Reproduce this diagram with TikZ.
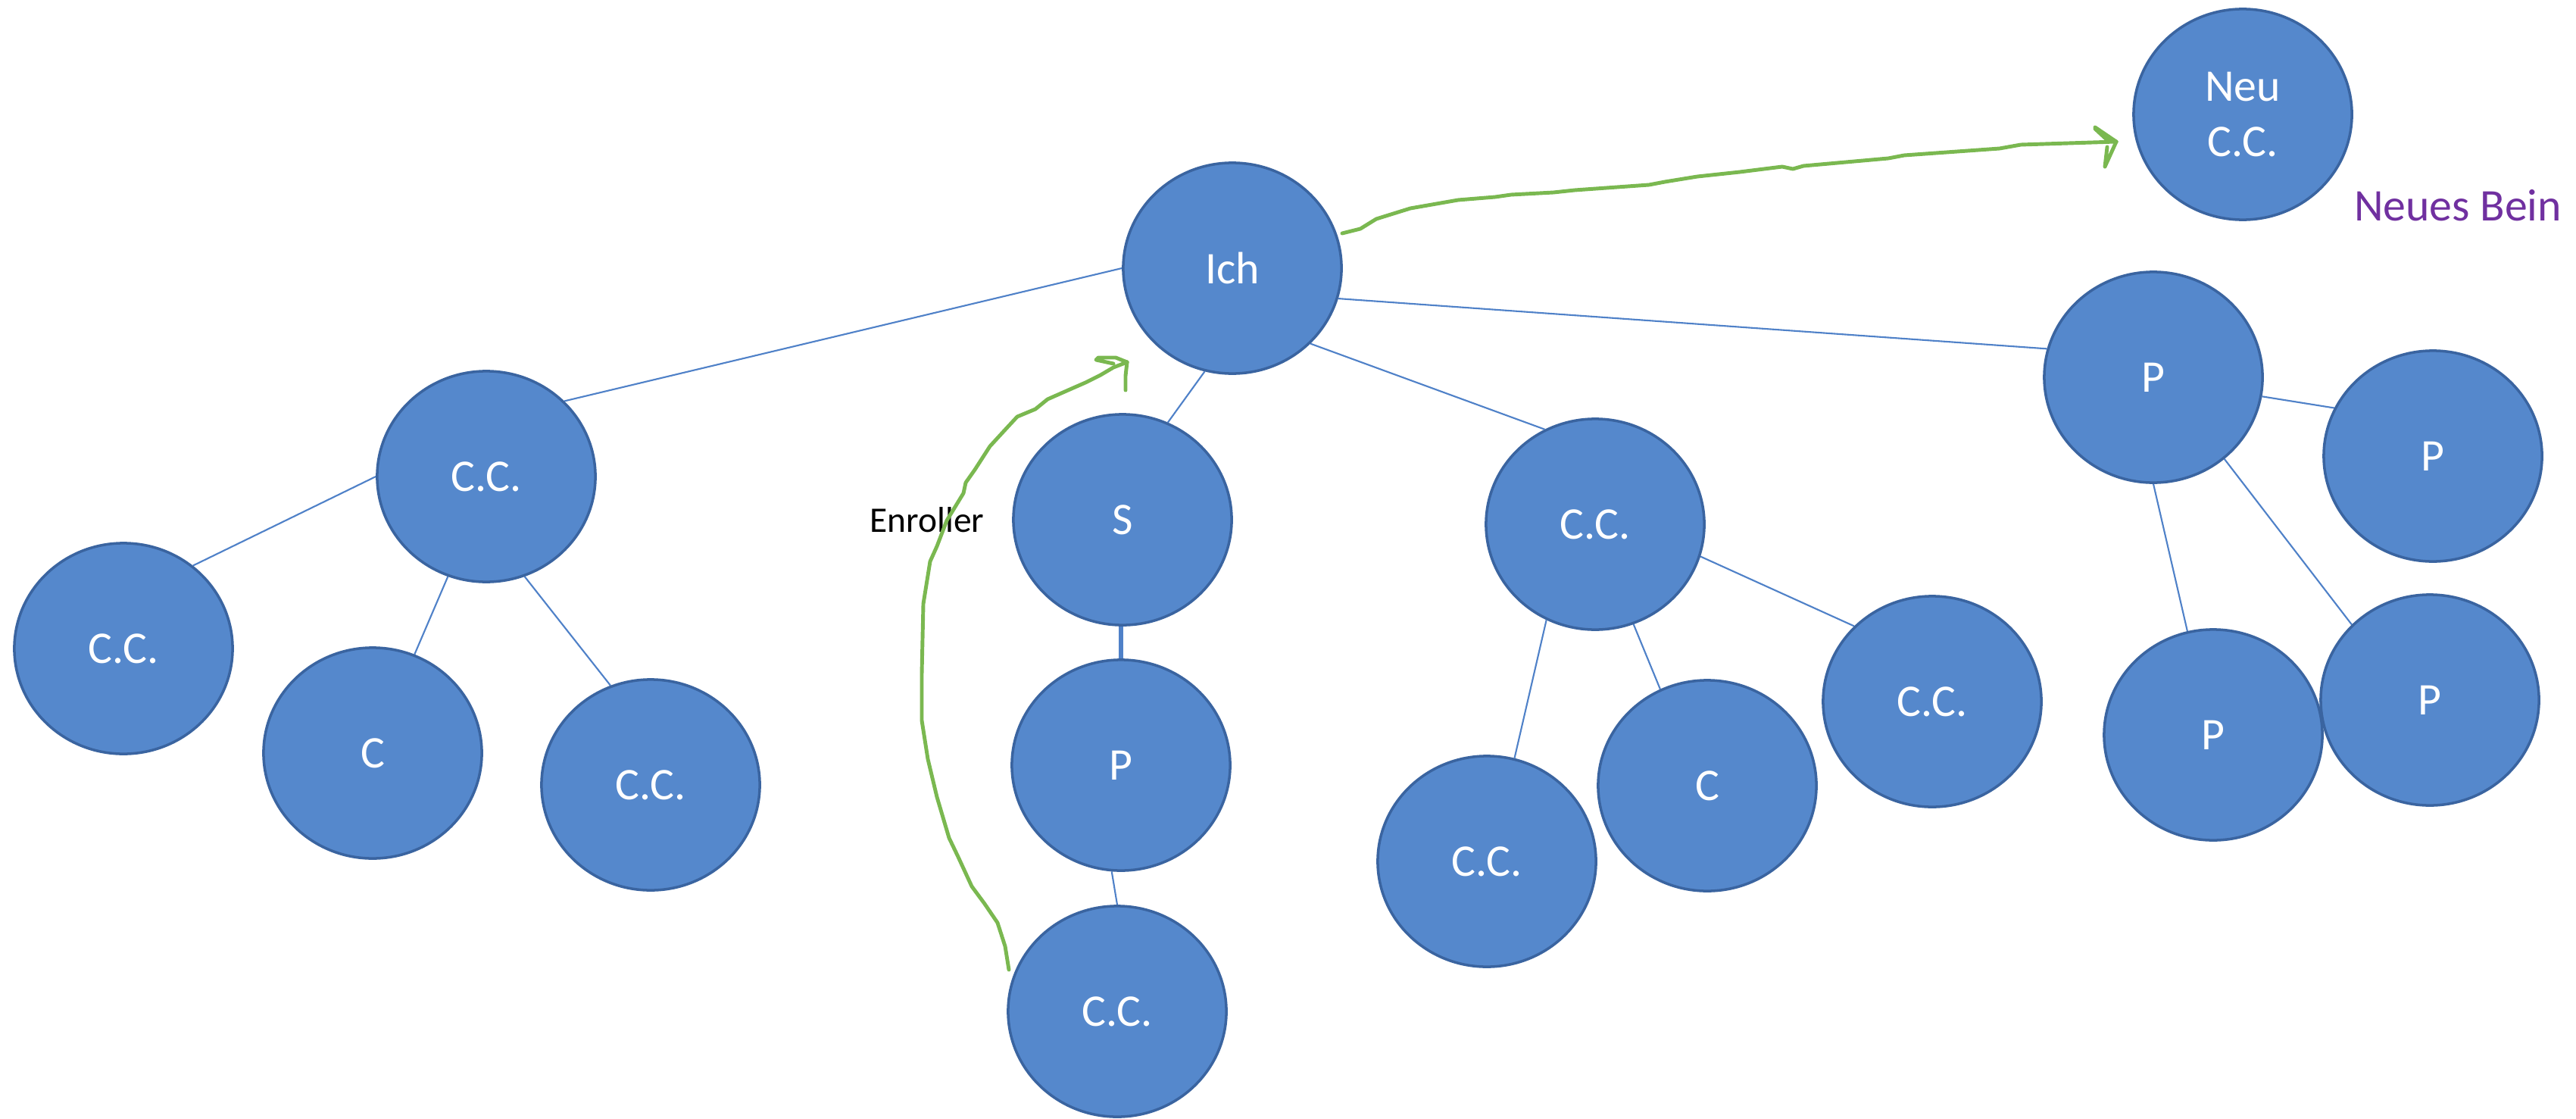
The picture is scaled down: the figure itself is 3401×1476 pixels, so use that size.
\documentclass[tikz,border=0pt]{standalone}
\usepackage{fontspec}
\setmainfont{Carlito}
\usetikzlibrary{shapes.geometric,backgrounds}
\definecolor{nfill}{RGB}{85,136,204}
\definecolor{nedge}{RGB}{58,100,160}
\definecolor{lblue}{RGB}{79,129,200}
\definecolor{hgreen}{RGB}{122,184,80}
\definecolor{npurple}{RGB}{112,48,160}
\begin{document}
\begin{tikzpicture}[x=0.01cm,y=-0.01cm,
  bub/.style={ellipse,draw=nedge,line width=1pt,fill=nfill,minimum width=2.88cm,minimum height=2.78cm,inner sep=0pt,text=white,font=\fontsize{17}{21}\selectfont,align=center},
  link/.style={draw=lblue,line width=0.6pt},
  boldlink/.style={draw=lblue,line width=1.7pt},
  hand/.style={draw=hgreen,line width=1.4pt,line cap=round,line join=round},
  lbl/.style={inner sep=0pt}]
\useasboundingbox (0,0) rectangle (3401,1476);

% nodes
\node[bub] (ich) at (1627,354) {Ich};
\node[bub] (neu) at (2961,151) {Neu\\C.C.};
\node[bub] (p1) at (2843,498) {P};
\node[bub] (p2) at (3212,602) {P};
\node[bub] (p3) at (2922,970) {P};
\node[bub] (p4) at (3208,924) {P};
\node[bub] (ccl) at (642,629) {C.C.};
\node[bub] (ccfl) at (163,856) {C.C.};
\node[bub] (cl) at (492,994) {C};
\node[bub] (ccl2) at (859,1036) {C.C.};
\node[bub] (s) at (1482,686) {S};
\node[bub] (pm) at (1480,1010) {P};
\node[bub] (ccb) at (1475,1335) {C.C.};
\node[bub] (ccm) at (2106,692) {C.C.};
\node[bub] (ccm1) at (1963,1137) {C.C.};
\node[bub] (cm) at (2254,1037) {C};
\node[bub] (ccm2) at (2551,926) {C.C.};

% labels
\node[lbl,font=\fontsize{13.5}{16}\selectfont] (enr) at (1224,686) {Enroller};
\node[lbl,text=npurple,font=\fontsize{17}{20}\selectfont] (nb) at (3245,271) {Neues Bein};

% connectors
\begin{scope}[on background layer]
\fill[white] (0,0) rectangle (3401,1476);
\draw[link] (ich.west) -- (ccl.44);
\draw[link] (ich.255) -- (s.65);
\draw[link] (ich.316) -- (ccm.118);
\draw[link] (ich.344) -- (p1.165);
\draw[link] (ccl.180) -- (ccfl.50);
\draw[link] (ccl.249) -- (cl.67);
\draw[link] (ccl.291) -- (ccl2.112);
\draw[boldlink] (pm.north) -- (pm.north |- s.south);
\draw[link] (pm.265) -- (ccb.north);
\draw[link] (ccm.243) -- (ccm1.75);
\draw[link] (ccm.291) -- (cm.116);
\draw[link] (ccm.343) -- (ccm2.136);
\draw[link] (p1.350) -- (p2.154);
\draw[link] (p1.south) -- (p3.104);
\draw[link] (p1.311) -- (p4.136);
\end{scope}

% hand-drawn arrows
\coordinate (a1s) at (1772,308);
\coordinate (a1t) at (2794,187);
\draw[hand] (a1s) -- (1796,302) -- (1817,289) -- (1862,275) -- (1925,264) -- (1974,260)
  -- (1995,257) -- (2051,254) -- (2079,251) -- (2177,244) -- (2198,240) -- (2241,233)
  -- (2297,227) -- (2353,220) -- (2367,223) -- (2381,219) -- (2493,209) -- (2514,205)
  -- (2640,196) -- (2668,191) -- (a1t);
\draw[hand] (2766,168) -- (a1t) -- (2780,183) -- (2766,170);
\draw[hand] (a1t) -- (2779,220) -- (2782,194);

\coordinate (a2s) at (1332,1280);
\coordinate (a2t) at (1488,478);
\draw[hand] (a2s) -- (1327,1249) -- (1317,1218) -- (1300,1193) -- (1283,1170) -- (1265,1131)
  -- (1253,1106) -- (1237,1052) -- (1225,1002) -- (1217,951) -- (1217,889) -- (1219,797)
  -- (1228,741) -- (1237,721) -- (1250,687) -- (1272,651) -- (1275,637) -- (1287,620)
  -- (1307,589) -- (1330,564) -- (1343,550) -- (1367,540) -- (1383,527) -- (1417,512)
  -- (1433,505) -- (1453,495) -- (1470,485) -- (a2t);
\draw[hand] (a2t) -- (1473,472) -- (1450,472) -- (1447,475) -- (1470,480);
\draw[hand] (a2t) -- (1486,496) -- (1486,515);
\end{tikzpicture}
\end{document}
